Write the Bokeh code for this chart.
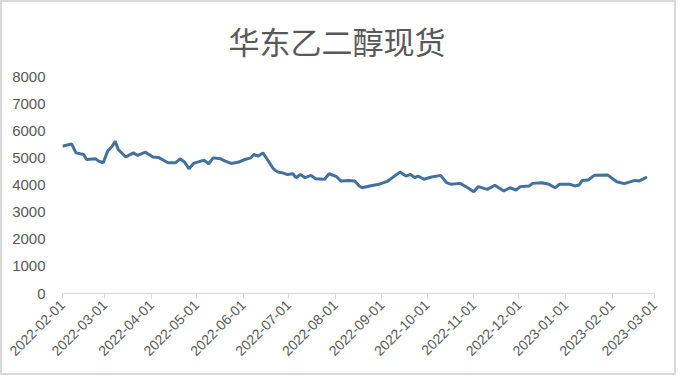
import pandas as pd
from math import pi
from bokeh.plotting import figure
from bokeh.models import Range1d, FixedTicker, DatetimeTickFormatter, ColumnDataSource, Title
from bokeh.embed import file_html
from bokeh.resources import INLINE

title_text = "华东乙二醇现货"

dates = [
    "2022-02-01", "2022-02-07", "2022-02-10", "2022-02-15", "2022-02-17", "2022-02-23",
    "2022-02-25", "2022-02-28", "2022-03-03", "2022-03-06", "2022-03-08", "2022-03-10",
    "2022-03-15", "2022-03-20", "2022-03-23", "2022-03-28", "2022-04-02", "2022-04-06",
    "2022-04-12", "2022-04-17", "2022-04-20", "2022-04-23", "2022-04-26", "2022-04-29",
    "2022-05-06", "2022-05-09", "2022-05-12", "2022-05-17", "2022-05-20", "2022-05-24",
    "2022-05-29", "2022-06-02", "2022-06-06", "2022-06-08", "2022-06-11", "2022-06-14",
    "2022-06-17", "2022-06-21", "2022-06-24", "2022-06-27", "2022-06-30", "2022-07-04",
    "2022-07-06", "2022-07-09", "2022-07-12", "2022-07-16", "2022-07-19", "2022-07-25",
    "2022-07-28", "2022-08-02", "2022-08-05", "2022-08-10", "2022-08-14", "2022-08-17",
    "2022-08-19", "2022-08-24", "2022-08-30", "2022-09-05", "2022-09-10", "2022-09-13",
    "2022-09-17", "2022-09-20", "2022-09-23", "2022-09-25", "2022-09-29", "2022-10-04",
    "2022-10-10", "2022-10-14", "2022-10-17", "2022-10-23", "2022-10-28", "2022-11-01",
    "2022-11-04", "2022-11-10", "2022-11-15", "2022-11-21", "2022-11-25", "2022-11-29",
    "2022-12-02", "2022-12-08", "2022-12-10", "2022-12-16", "2022-12-21", "2022-12-25",
    "2022-12-28", "2023-01-04", "2023-01-07", "2023-01-10", "2023-01-12", "2023-01-16",
    "2023-01-20", "2023-01-29", "2023-02-04", "2023-02-09", "2023-02-16", "2023-02-19",
    "2023-02-21", "2023-02-24",
]
prices = [
    5430, 5515, 5185, 5125, 4940, 4965,
    4880, 4820, 5250, 5430, 5615, 5310,
    5030, 5185, 5090, 5210, 5030, 5010,
    4820, 4820, 4965, 4845, 4600, 4795,
    4915, 4780, 5000, 4965, 4880, 4795,
    4845, 4940, 5000, 5125, 5065, 5185,
    4940, 4600, 4475, 4450, 4390, 4415,
    4270, 4390, 4270, 4355, 4230, 4210,
    4415, 4305, 4145, 4170, 4145, 3965,
    3900, 3965, 4025, 4145, 4355, 4475,
    4330, 4390, 4270, 4330, 4210, 4295,
    4355, 4085, 4025, 4060, 3900, 3755,
    3940, 3840, 3990, 3780, 3900, 3815,
    3940, 3965, 4060, 4085, 4025, 3900,
    4025, 4025, 3965, 4000, 4170, 4185,
    4355, 4365, 4120, 4050, 4170, 4145,
    4210, 4295,
]

x_tick_labels = [
    "2022-02-01", "2022-03-01", "2022-04-01", "2022-05-01", "2022-06-01", "2022-07-01",
    "2022-08-01", "2022-09-01", "2022-10-01", "2022-11-01", "2022-12-01", "2023-01-01",
    "2023-02-01", "2023-03-01",
]
y_ticks = [0, 1000, 2000, 3000, 4000, 5000, 6000, 7000, 8000]

dt = pd.to_datetime(dates)
src = ColumnDataSource(dict(x=dt, y=prices))
tick_ms = [pd.Timestamp(s).value // 10**6 for s in x_tick_labels]

p = figure(width=676, height=375, output_backend="svg", toolbar_location=None,
           x_axis_type="datetime",
           x_range=Range1d(pd.Timestamp(x_tick_labels[0]), pd.Timestamp(x_tick_labels[-1])),
           y_range=Range1d(y_ticks[0], y_ticks[-1]),
           min_border_left=60, min_border_right=24, min_border_top=73, min_border_bottom=84)
p.styles = {"border": "2px solid #d9d9d9"}

t = Title(text=title_text, align="left", offset=166, text_font="Noto Sans CJK SC",
          text_font_size="31px", text_font_style="normal", text_color="#595959",
          standoff=27)
p.add_layout(t, "above")

p.line("x", "y", source=src, line_width=3, line_color="#41719C")

p.xgrid.visible = False
p.ygrid.visible = False
p.outline_line_color = None
p.background_fill_color = "white"
p.border_fill_color = "white"

xa = p.xaxis[0]
xa.ticker = FixedTicker(ticks=tick_ms)
fmt = "%Y-%m-%d"
xa.formatter = DatetimeTickFormatter(days=fmt, months=fmt, years=fmt, hours=fmt,
                                     minutes=fmt, seconds=fmt, milliseconds=fmt,
                                     microseconds=fmt, hourmin=fmt, minsec=fmt)
xa.major_label_orientation = pi / 4
xa.axis_line_color = "#d9d9d9"
xa.major_tick_line_color = "#d9d9d9"
xa.major_tick_in = 0
xa.major_tick_out = 5
xa.minor_tick_line_color = None
xa.major_label_text_color = "#595959"
xa.major_label_text_font = "Liberation Sans"
xa.major_label_text_font_size = "14px"
xa.major_label_standoff = 4

ya = p.yaxis[0]
ya.ticker = FixedTicker(ticks=y_ticks)
ya.axis_line_color = None
ya.major_tick_line_color = None
ya.minor_tick_line_color = None
ya.major_label_text_color = "#595959"
ya.major_label_text_font = "Liberation Sans"
ya.major_label_text_font_size = "15px"
ya.major_label_standoff = 11

open("out.html", "w").write(file_html(p, INLINE))
